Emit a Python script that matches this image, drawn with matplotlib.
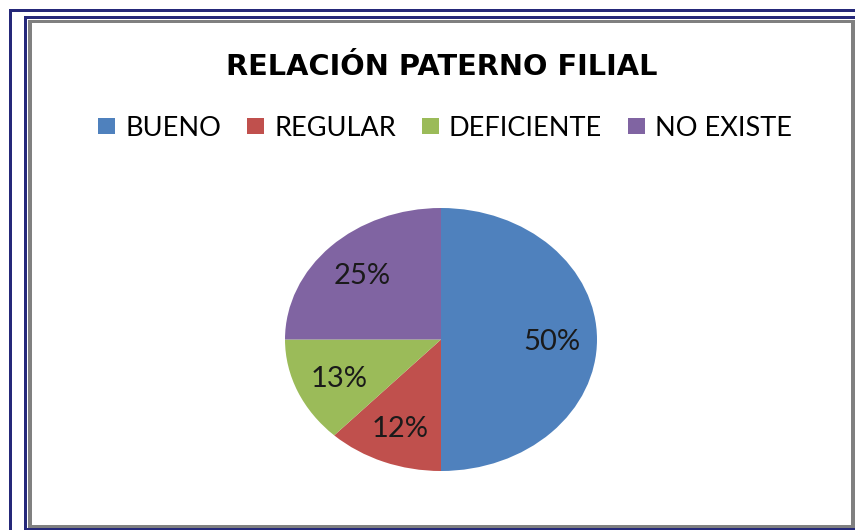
import matplotlib.pyplot as plt
from matplotlib.patches import Rectangle

categorias = ["BUENO", "REGULAR", "DEFICIENTE", "NO EXISTE"]
porcentajes = [50, 12, 13, 25]
colores = ["#4F81BD", "#C0504D", "#9BBB59", "#8064A2"]
titulo = "RELACIÓN PATERNO FILIAL"

plt.rcParams['font.family'] = ['Lato', 'DejaVu Sans']

W, H = 855, 530
fig = plt.figure(figsize=(W / 100, H / 100), dpi=100)
fig.patch.set_facecolor("white")


def marco(x, y, w, h, color):
    # rectangle in pixel coords (top-left origin)
    fig.add_artist(Rectangle((x / W, 1 - (y + h) / H), w / W, h / H,
                             transform=fig.transFigure, facecolor=color,
                             edgecolor="none"))


# frames (outer navy, inner navy, gray shadow border)
navy = "#252879"
marco(9, 9, 846, 3, navy)
marco(9, 9, 3, 521, navy)
marco(24, 16, 831, 3, navy)
marco(24, 16, 3, 514, navy)
marco(28, 20, 827, 3, "#808080")
marco(28, 20, 4, 508, "#808080")
marco(851, 20, 4, 508, "#808080")
marco(28, 525, 827, 3, "#808080")
marco(24, 528, 831, 2, navy)

ax = fig.add_axes([285 / W, 1 - 471 / H, 312 / W, 263 / H])
wedges, textos, autotextos = ax.pie(
    porcentajes, colors=colores, startangle=90, counterclock=False,
    autopct="%1.0f%%", pctdistance=0.71,
    wedgeprops=dict(linewidth=0),
    textprops=dict(fontsize=21, color="#1a1a1a"))
for t in autotextos:
    t.set_va("center_baseline")
ax.set_aspect("auto")
ax.set_xlim(-1, 1)
ax.set_ylim(-1, 1)

fig.text(442 / W, 1 - 67 / H, titulo, ha="center", va="center",
         fontsize=20.8, fontweight="bold", color="black",
         family=["DejaVu Sans"])

leg = fig.legend(wedges, categorias, loc="center", ncol=4,
                 bbox_to_anchor=(445 / W, 1 - 128 / H), frameon=False,
                 fontsize=19.5, handlelength=0.63, handleheight=0.55,
                 handletextpad=0.37, columnspacing=0.95, borderpad=0)

plt.savefig("out.png", dpi=100)
